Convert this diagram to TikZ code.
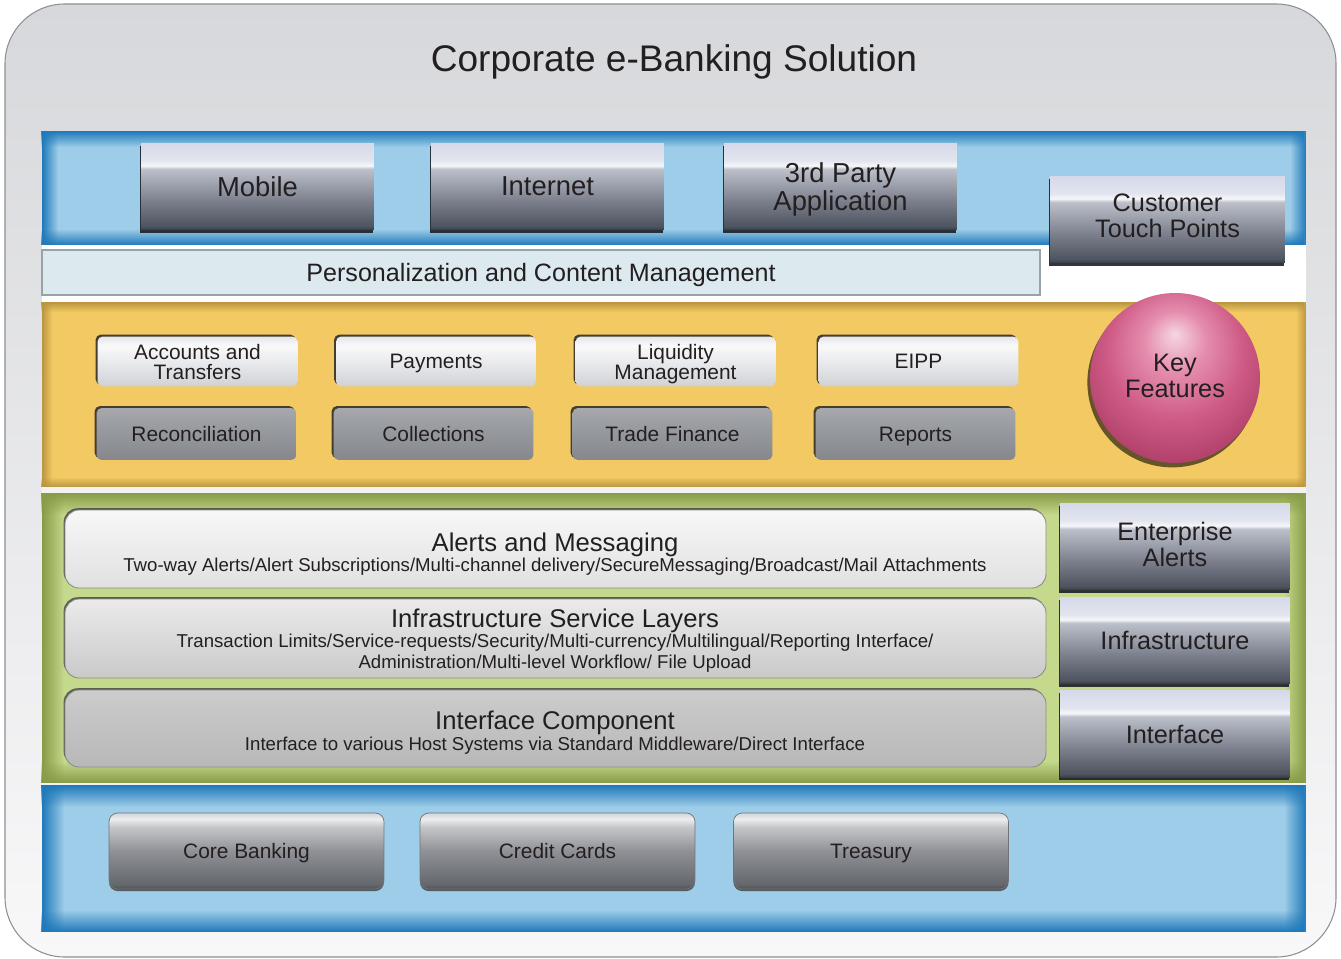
\documentclass[tikz,border=0pt]{standalone}
\usepackage{fontspec}
\setmainfont{Liberation Sans}
\usetikzlibrary{fit,shadows,fadings}

\definecolor{ink}{HTML}{231F20}
\definecolor{panelTop}{HTML}{D7D8DB}
\definecolor{panelBot}{HTML}{F8F8F9}
\definecolor{panelLine}{HTML}{8E8F92}
\definecolor{skyIn}{HTML}{9DCDE8}
\definecolor{skyRim}{HTML}{1F79BA}
\definecolor{sunIn}{HTML}{F2C963}
\definecolor{sunRim}{HTML}{B9963F}
\definecolor{leafIn}{HTML}{C4D98C}
\definecolor{leafRim}{HTML}{889B47}
\definecolor{persFill}{HTML}{DCEAF0}
\definecolor{persLine}{HTML}{97A3A9}
% glossy tiles
\definecolor{glossD}{HTML}{363B47}
\definecolor{glossC}{HTML}{4E5360}
\definecolor{glossB}{HTML}{7C818D}
\definecolor{glossA}{HTML}{BCC0CB}
\definecolor{glossHi}{HTML}{F6F7FA}
\definecolor{glossT}{HTML}{E2E5EF}
\definecolor{glossU}{HTML}{D5D9E9}
\definecolor{tileEdge}{HTML}{1D2027}
% feature buttons
\definecolor{liteA}{HTML}{D0D1D5}
\definecolor{liteB}{HTML}{E5E6E9}
\definecolor{liteC}{HTML}{F9F9FA}
\definecolor{darkA}{HTML}{85878C}
\definecolor{darkB}{HTML}{979A9E}
\definecolor{darkC}{HTML}{A6A8AC}
% host systems
\definecolor{hostA}{HTML}{4F5257}
\definecolor{hostB}{HTML}{64676C}
\definecolor{hostC}{HTML}{8F9196}
\definecolor{hostD}{HTML}{C6C7CA}
\definecolor{hostE}{HTML}{EEEEEF}
\definecolor{hostF}{HTML}{D3D4D7}
% key features ball
\definecolor{ballA}{HTML}{F5D6E2}
\definecolor{ballB}{HTML}{E58DAE}
\definecolor{ballC}{HTML}{CE5B86}
\definecolor{ballD}{HTML}{AE3F68}
\definecolor{ballE}{HTML}{922D55}

\pgfdeclareverticalshading{tilegloss}{100bp}{color(0bp)=(glossD); color(25bp)=(glossD);
  color(27bp)=(glossC); color(42bp)=(glossB); color(60bp)=(glossA); color(62bp)=(glossHi);
  color(65bp)=(glossT); color(75bp)=(glossU); color(100bp)=(glossU)}
\pgfdeclareverticalshading{featlite}{100bp}{color(0bp)=(liteA); color(25bp)=(liteA);
  color(45bp)=(liteB); color(66bp)=(liteC); color(75bp)=(liteB); color(100bp)=(liteB)}
\pgfdeclareverticalshading{featdark}{100bp}{color(0bp)=(darkA); color(25bp)=(darkA);
  color(55bp)=(darkB); color(75bp)=(darkC); color(100bp)=(darkC)}
\pgfdeclareverticalshading{hostgloss}{100bp}{color(0bp)=(hostA); color(25bp)=(hostA);
  color(28bp)=(hostB); color(50bp)=(hostC); color(66bp)=(hostD); color(71bp)=(hostE);
  color(75bp)=(hostF); color(100bp)=(hostF)}
\pgfdeclareradialshading{keyball}{\pgfpoint{0bp}{13bp}}{color(0bp)=(ballA); color(9bp)=(ballB);
  color(20bp)=(ballC); color(31bp)=(ballD); color(39bp)=(ballE); color(50bp)=(ballE)}

\tikzfading[name=rimtop, top color=transparent!0, bottom color=transparent!100]
\tikzfading[name=rimbottom, top color=transparent!100, bottom color=transparent!0]
\tikzfading[name=rimleft, left color=transparent!0, right color=transparent!100]
\tikzfading[name=rimright, left color=transparent!100, right color=transparent!0]

% band with darker soft edges: x1, y1, x2, y2, inner colour, rim colour, rim width
\newcommand{\glowband}[7]{%
  \fill[#5] (#1,#2) rectangle (#3,#4);
  \fill[#6, path fading=rimtop] (#1,#2) rectangle (#3,#2+#7);
  \fill[#6, path fading=rimbottom] (#1,#4-#7) rectangle (#3,#4);
  \fill[#6, path fading=rimleft] (#1,#2) rectangle (#1+#7,#4);
  \fill[#6, path fading=rimright] (#3-#7,#2) rectangle (#3,#4);
}

\begin{document}
\begin{tikzpicture}[x=0.02cm, y=-0.02cm,
    every node/.style={text=ink, inner sep=0pt, text depth=0pt},
    toptile/.style={rectangle, shade, shading=tilegloss, align=center,
      minimum width=4.66cm, minimum height=1.74cm,
      font=\fontsize{15.6}{16}\selectfont,
      drop shadow={shadow xshift=-0.6pt, shadow yshift=-1.6pt, fill=tileEdge, opacity=.9}},
    sidetile/.style={toptile, minimum width=4.6cm, font=\fontsize{14.4}{14.7}\selectfont},
    featbox/.style={rectangle, rounded corners=3pt, align=center,
      minimum width=4cm, minimum height=1.04cm,
      font=\fontsize{11.9}{11.4}\selectfont,
      drop shadow={shadow xshift=-1.1pt, shadow yshift=1.1pt, fill=black!85, opacity=.85}},
    featlight/.style={featbox, shade, shading=featlite, minimum height=1cm},
    featgray/.style={featbox, shade, shading=featdark},
    layerbar/.style={rectangle, rounded corners=8pt, draw=black!45, line width=.5pt,
      drop shadow={shadow xshift=-0.8pt, shadow yshift=1pt, fill=black!75, opacity=.8}},
    layerhead/.style={anchor=base, font=\fontsize{14.6}{16}\selectfont},
    layersub/.style={anchor=base, font=\fontsize{10.6}{12}\selectfont},
    hostbtn/.style={rectangle, rounded corners=5pt, shade, shading=hostgloss,
      minimum width=5.5cm, minimum height=1.52cm,
      draw=black!55, line width=.4pt, font=\fontsize{11.9}{13}\selectfont,
      drop shadow={shadow xshift=0pt, shadow yshift=-1.2pt, fill=black!75, opacity=.8}}]

  \useasboundingbox (0,0) rectangle (1341,959);

  % outer panel
  \draw[draw=panelLine, line width=.6pt, top color=panelTop, bottom color=panelBot,
    rounded corners=34pt] (5,4) rectangle (1336,957);
  \node[font=\fontsize{21.1}{24}\selectfont, anchor=base] (title) at (674,72)
    {Corporate e-Banking Solution};

  % coloured layers
  \fill[white] (42,245) rectangle (1306,302);
  \fill[white!95!black] (42,487) rectangle (1306,493);
  \glowband{42}{131}{1306}{245}{skyIn}{skyRim}{16}
  \glowband{42}{302}{1306}{487}{sunIn}{sunRim}{10}
  \glowband{42}{493}{1306}{783}{leafIn}{leafRim}{22}
  \glowband{42}{785}{1306}{932}{skyIn}{skyRim}{22}

  % channels
  \node[toptile] (mobile) at (257.5,186.5) {Mobile};
  \node[toptile] (internet) at (547.5,186.5) {Internet};
  \node[toptile] (thirdparty) at (840.5,186.5) {3rd Party\\Application};
  \node[sidetile, minimum width=4.7cm, text depth=0.16cm] (touch) at (1167.5,219.5)
    {Customer\\Touch Points};

  \node[rectangle, fill=persFill, draw=persLine, line width=.8pt,
    minimum width=19.96cm, minimum height=0.9cm,
    font=\fontsize{14.3}{16}\selectfont] (pers) at (541,272.5)
    {Personalization and Content Management};

  % key features
  \node[featlight] (accounts) at (197.5,361.5) {Accounts and\\Transfers};
  \node[featlight] (payments) at (436,361.5) {Payments};
  \node[featlight] (liquidity) at (675.5,361.5) {Liquidity\\Management};
  \node[featlight] (eipp) at (918.5,361.5) {EIPP};
  \node[featgray] (recon) at (196.5,434) {Reconciliation};
  \node[featgray] (collect) at (433.5,434) {Collections};
  \node[featgray] (trade) at (672.5,434) {Trade Finance};
  \node[featgray] (reports) at (915.5,434) {Reports};

  \node[circle, minimum size=3.4cm, shade, shading=keyball, align=center,
    font=\fontsize{14.4}{14.7}\selectfont, text depth=0.08cm,
    drop shadow={shadow xshift=-1.5pt, shadow yshift=-2.5pt, fill=black!70!sunRim, opacity=.75}]
    (keyball) at (1175,378) {Key\\Features};

  % service layers
  \node[layerbar, top color=white!97!black, bottom color=black!12, fit={(65,510) (1046,588)}] (alertbar) {};
  \node[layerbar, top color=black!8, bottom color=black!21, fit={(65,599) (1046,678)}] (infrabar) {};
  \node[layerbar, top color=black!20, bottom color=black!28, fit={(65,690) (1046,767)}] (ifacebar) {};

  \node[layerhead] (alerthead) at (555,551) {Alerts and Messaging};
  \node[layersub] (alertsub) at (555,571)
    {Two-way Alerts/Alert Subscriptions/Multi-channel delivery/SecureMessaging/Broadcast/Mail Attachments};
  \node[layerhead] (infrahead) at (555,627) {Infrastructure Service Layers};
  \node[layersub] (infrasub) at (555,647)
    {Transaction Limits/Service-requests/Security/Multi-currency/Multilingual/Reporting Interface/};
  \node[layersub] (infrasubb) at (555,668) {Administration/Multi-level Workflow/ File Upload};
  \node[layerhead] (ifacehead) at (555,729) {Interface Component};
  \node[layersub] (ifacesub) at (555,750)
    {Interface to various Host Systems via Standard Middleware/Direct Interface};

  \node[sidetile, text depth=0.08cm] (entalerts) at (1175,546.5) {Enterprise\\Alerts};
  \node[sidetile] (infra) at (1175,640.5) {Infrastructure};
  \node[sidetile] (iface) at (1175,734) {Interface};

  % host systems
  \node[hostbtn] (core) at (246.5,851) {Core Banking};
  \node[hostbtn] (cards) at (557.5,851) {Credit Cards};
  \node[hostbtn] (treasury) at (871,851) {Treasury};
\end{tikzpicture}
\end{document}
